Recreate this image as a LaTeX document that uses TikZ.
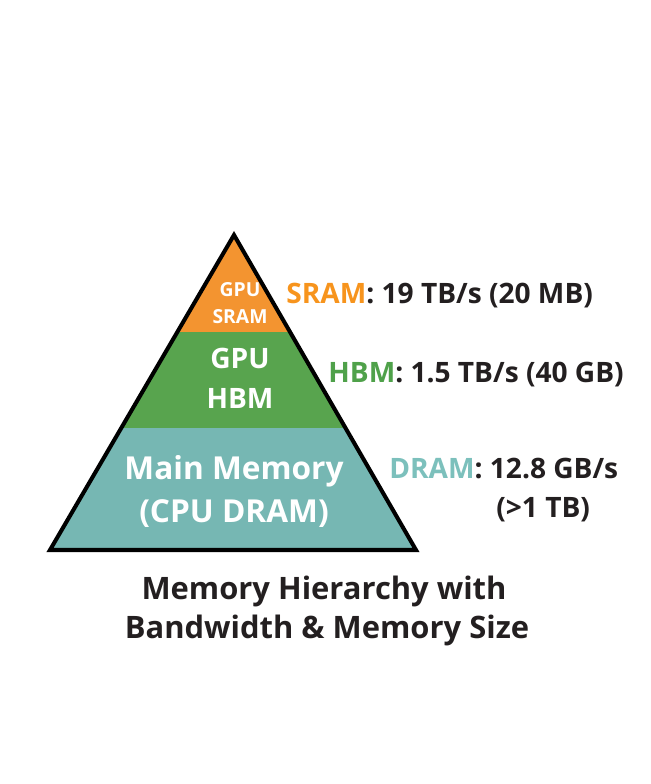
\documentclass[tikz,border=0pt]{standalone}
\usepackage{fontspec}
\setmainfont{Open Sans}
\usepackage{tikz}
\usetikzlibrary{positioning}

\definecolor{sramfill}{HTML}{F39430}
\definecolor{hbmfill}{HTML}{58A44E}
\definecolor{dramfill}{HTML}{76B7B3}
\definecolor{sramtxt}{HTML}{F7941D}
\definecolor{hbmtxt}{HTML}{4FA14A}
\definecolor{dramtxt}{HTML}{7CC0BC}
\definecolor{darktxt}{HTML}{231F20}

\begin{document}
\begin{tikzpicture}[
  x=0.02cm, y=-0.02cm,
  every node/.style={font=\bfseries, inner sep=0pt},
  inlbl/.style={text=white, anchor=base},
  rlbl/.style={text=darktxt, anchor=base west, font=\fontsize{16}{19}\selectfont\bfseries},
  ttl/.style={text=darktxt, anchor=base, font=\fontsize{17.6}{21}\selectfont\bfseries}
]
\useasboundingbox (0,0) rectangle (650,784);

% pyramid corners
\coordinate (apex) at (234,235);
\coordinate (bl)   at (50,550);
\coordinate (br)   at (416,550);

% ======================
% BANDS
% ======================
\begin{scope}
  \clip (apex) -- (bl) -- (br) -- cycle;
  \fill[sramfill] (40,225) rectangle (430,332);
  \fill[hbmfill]  (40,332) rectangle (430,428);
  \fill[dramfill] (40,428) rectangle (430,560);
\end{scope}
\draw[line width=2.3pt, line join=miter] (apex) -- (bl) -- (br) -- cycle;

% labels inside the pyramid
\node[inlbl, font=\fontsize{11}{13}\selectfont\bfseries]   (sram1) at (240,296) {GPU};
\node[inlbl, font=\fontsize{11}{13}\selectfont\bfseries]   (sram2) at (240,323) {SRAM};
\node[inlbl, font=\fontsize{16}{19}\selectfont\bfseries]   (hbm1)  at (240,368) {GPU};
\node[inlbl, font=\fontsize{16}{19}\selectfont\bfseries]   (hbm2)  at (240,408) {HBM};
\node[inlbl, font=\fontsize{18}{21}\selectfont\bfseries]   (dram1) at (234,479) {Main Memory};
\node[inlbl, font=\fontsize{18}{21}\selectfont\bfseries]   (dram2) at (234,522) {(CPU DRAM)};

% ======================
% BANDWIDTH / SIZE
% ======================
\node[rlbl] (sramr) at (286,303)
  {\textcolor{sramtxt}{SRAM}: 19 TB/s (20 MB)};
\node[rlbl] (hbmr) at (328,382)
  {\textcolor{hbmtxt}{HBM}: 1.5 TB/s (40 GB)};
\node[rlbl] (dramr) at (389,478)
  {\textcolor{dramtxt}{DRAM}: 12.8 GB/s};
\node[rlbl] (dramr2) at (496,517)
  {(>1 TB)};

% title
\node[ttl] (title1) at (324,599) {Memory Hierarchy with};
\node[ttl] (title2) at (327,638) {Bandwidth \& Memory Size};

\end{tikzpicture}
\end{document}
